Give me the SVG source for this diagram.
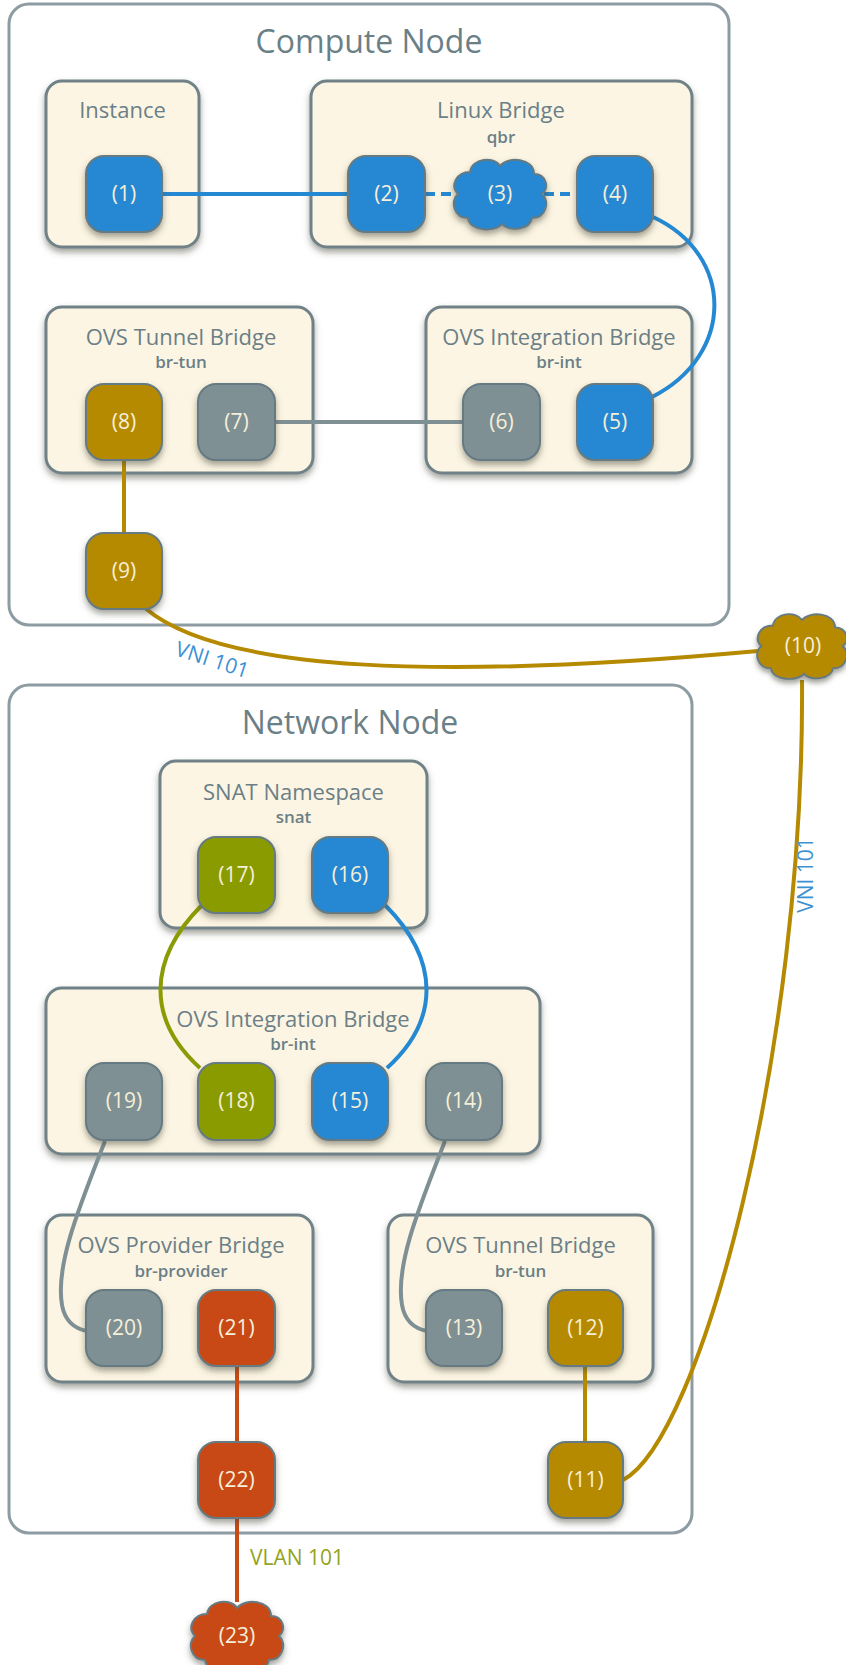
<svg xmlns="http://www.w3.org/2000/svg" width="846" height="1665" viewBox="0 0 846 1665">
<style>
.outer{fill:#ffffff;stroke:#8d9ca2;stroke-width:3}
.box{fill:#fcf5e3;stroke:#6f8288;stroke-width:3;filter:url(#sh)}
.port{stroke:#657a82;stroke-width:2;filter:url(#sh)}
.blue{fill:#2588d2}.gray{fill:#7f9094}.gold{fill:#b58a00}.green{fill:#8a9b06}.red{fill:#c84a15}
.big{font-family:"Open Sans","DejaVu Sans",sans-serif;font-size:32px;fill:#6b7f87;text-anchor:middle}
.title{font-family:"Open Sans","DejaVu Sans",sans-serif;font-size:22px;fill:#6b7f87;text-anchor:middle}
.sub{font-family:"Open Sans","DejaVu Sans",sans-serif;font-size:17px;font-weight:600;fill:#6b7f87;text-anchor:middle}
.lbl{font-family:"Open Sans","DejaVu Sans",sans-serif;font-size:21px;fill:#f6efd9;text-anchor:middle}
.ln{fill:none;stroke-width:4}
.cb{stroke:#2588d2}.cg{stroke:#7f9094}.cy{stroke:#b58a00}.cgr{stroke:#8a9b06}.cr{stroke:#c84a15}
.note{font-family:"Open Sans","DejaVu Sans",sans-serif;font-size:21px}
</style>
<defs>
<filter id="sh" x="-20%" y="-20%" width="140%" height="150%">
<feDropShadow dx="0" dy="4" stdDeviation="3" flood-color="#4a4a3a" flood-opacity="0.5"/>
</filter>
<path id="cloud" d="M -30,-22 C -28,-36 -6,-38 0,-28 C 8,-38 34,-36 34,-20 C 46,-20 50,-6 42,0 C 50,8 46,24 32,24 C 30,36 8,38 2,30 C -4,38 -30,38 -32,24 C -46,24 -50,8 -42,0 C -50,-8 -44,-22 -30,-22 Z"/>
</defs>

<g id="compute-node">
<rect class="outer" x="9" y="4" width="720" height="621" rx="20"/>
<text class="big" x="369" y="53">Compute Node</text>
</g>
<g id="network-node">
<rect class="outer" x="9" y="685" width="683" height="848" rx="20"/>
<text class="big" x="350" y="734">Network Node</text>
</g>

<g id="instance">
<rect class="box" x="46" y="81" width="153" height="166" rx="16"/>
<text class="title" x="122.5" y="118">Instance</text>
</g>
<g id="linux-bridge">
<rect class="box" x="311" y="81" width="381" height="166" rx="16"/>
<text class="title" x="501" y="118">Linux Bridge</text>
<text class="sub" x="501" y="143">qbr</text>
</g>
<g id="cn-br-tun">
<rect class="box" x="46" y="307" width="267" height="166" rx="16"/>
<text class="title" x="181" y="345">OVS Tunnel Bridge</text>
<text class="sub" x="181" y="368">br-tun</text>
</g>
<g id="cn-br-int">
<rect class="box" x="426" y="307" width="266" height="166" rx="16"/>
<text class="title" x="559" y="345">OVS Integration Bridge</text>
<text class="sub" x="559" y="368">br-int</text>
</g>
<g id="snat">
<rect class="box" x="160" y="761" width="267" height="167" rx="16"/>
<text class="title" x="293.5" y="800">SNAT Namespace</text>
<text class="sub" x="293.5" y="823">snat</text>
</g>
<g id="nn-br-int">
<rect class="box" x="46" y="988" width="494" height="166" rx="16"/>
<text class="title" x="293" y="1027">OVS Integration Bridge</text>
<text class="sub" x="293" y="1050">br-int</text>
</g>
<g id="br-provider">
<rect class="box" x="46" y="1215" width="267" height="167" rx="16"/>
<text class="title" x="181" y="1253">OVS Provider Bridge</text>
<text class="sub" x="181" y="1277">br-provider</text>
</g>
<g id="nn-br-tun">
<rect class="box" x="388" y="1215" width="265" height="167" rx="16"/>
<text class="title" x="520.5" y="1253">OVS Tunnel Bridge</text>
<text class="sub" x="520.5" y="1277">br-tun</text>
</g>

<g id="connectors">
<line class="ln cb" x1="162" y1="194" x2="348" y2="194"/>
<line class="ln cb" x1="425" y1="194" x2="456" y2="194" stroke-width="3" stroke-dasharray="10,6"/>
<line class="ln cb" x1="544" y1="194" x2="577" y2="194" stroke-width="3" stroke-dasharray="10,6"/>
<path class="ln cb" d="M653,217 C735,255 735,355 652,397"/>
<line class="ln cg" x1="275" y1="422" x2="463" y2="422"/>
<line class="ln cy" x1="124" y1="460" x2="124" y2="533"/>
<path class="ln cy" d="M145,608 C220,672 440,680 758,651"/>
<path class="ln cy" d="M802,680 C805,1050 700,1440 623,1480"/>
<line class="ln cy" x1="585" y1="1366" x2="585" y2="1442"/>
<path class="ln cg" d="M445,1141 C420,1205 395,1265 402,1305 Q406,1327 427,1331"/>
<path class="ln cb" d="M385,905 C440,960 440,1020 387,1068"/>
<path class="ln cgr" d="M202,905 C147,960 147,1020 200,1068"/>
<path class="ln cg" d="M105,1141 C80,1205 55,1265 62,1305 Q66,1327 87,1331"/>
<line class="ln cr" x1="237" y1="1366" x2="237" y2="1442"/>
<line class="ln cr" x1="237" y1="1518" x2="237" y2="1602"/>
<text class="note" fill="#3d91d3" transform="translate(174,655) rotate(18)">VNI 101</text>
<text class="note" fill="#3d91d3" text-anchor="middle" transform="translate(813,875) rotate(-90)">VNI 101</text>
<text class="note" fill="#93a320" x="250" y="1565">VLAN 101</text>
</g>

<g id="p1"><rect class="port blue" x="86" y="156" width="76" height="76" rx="18"/><text class="lbl" x="124" y="201">(1)</text></g>
<g id="p2"><rect class="port blue" x="348" y="156" width="77" height="76" rx="18"/><text class="lbl" x="386.5" y="201">(2)</text></g>
<g id="p3"><use href="#cloud" class="port blue" transform="translate(500,194)"/><text class="lbl" x="500" y="201">(3)</text></g>
<g id="p4"><rect class="port blue" x="577" y="156" width="76" height="76" rx="18"/><text class="lbl" x="615" y="201">(4)</text></g>
<g id="p5"><rect class="port blue" x="577" y="384" width="76" height="76" rx="18"/><text class="lbl" x="615" y="429">(5)</text></g>
<g id="p6"><rect class="port gray" x="463" y="384" width="77" height="76" rx="18"/><text class="lbl" x="501.5" y="429">(6)</text></g>
<g id="p7"><rect class="port gray" x="198" y="384" width="77" height="76" rx="18"/><text class="lbl" x="236.5" y="429">(7)</text></g>
<g id="p8"><rect class="port gold" x="86" y="384" width="76" height="76" rx="18"/><text class="lbl" x="124" y="429">(8)</text></g>
<g id="p9"><rect class="port gold" x="86" y="533" width="76" height="76" rx="18"/><text class="lbl" x="124" y="578">(9)</text></g>
<g id="p10"><use href="#cloud" class="port gold" transform="translate(802,646) scale(0.97,0.93)"/><text class="lbl" x="803" y="653">(10)</text></g>
<g id="p11"><rect class="port gold" x="548" y="1442" width="75" height="76" rx="18"/><text class="lbl" x="585.5" y="1487">(11)</text></g>
<g id="p12"><rect class="port gold" x="548" y="1290" width="75" height="76" rx="18"/><text class="lbl" x="585.5" y="1335">(12)</text></g>
<g id="p13"><rect class="port gray" x="426" y="1290" width="76" height="76" rx="18"/><text class="lbl" x="464" y="1335">(13)</text></g>
<g id="p14"><rect class="port gray" x="426" y="1063" width="76" height="77" rx="18"/><text class="lbl" x="464" y="1108">(14)</text></g>
<g id="p15"><rect class="port blue" x="312" y="1063" width="76" height="77" rx="18"/><text class="lbl" x="350" y="1108">(15)</text></g>
<g id="p16"><rect class="port blue" x="312" y="837" width="76" height="76" rx="18"/><text class="lbl" x="350" y="882">(16)</text></g>
<g id="p17"><rect class="port green" x="198" y="837" width="77" height="76" rx="18"/><text class="lbl" x="236.5" y="882">(17)</text></g>
<g id="p18"><rect class="port green" x="198" y="1063" width="77" height="77" rx="18"/><text class="lbl" x="236.5" y="1108">(18)</text></g>
<g id="p19"><rect class="port gray" x="86" y="1063" width="76" height="77" rx="18"/><text class="lbl" x="124" y="1108">(19)</text></g>
<g id="p20"><rect class="port gray" x="86" y="1290" width="76" height="76" rx="18"/><text class="lbl" x="124" y="1335">(20)</text></g>
<g id="p21"><rect class="port red" x="198" y="1290" width="77" height="76" rx="18"/><text class="lbl" x="236.5" y="1335">(21)</text></g>
<g id="p22"><rect class="port red" x="198" y="1442" width="77" height="76" rx="18"/><text class="lbl" x="236.5" y="1487">(22)</text></g>
<g id="p23"><use href="#cloud" class="port red" transform="translate(237,1636)"/><text class="lbl" x="237" y="1643">(23)</text></g>
</svg>
